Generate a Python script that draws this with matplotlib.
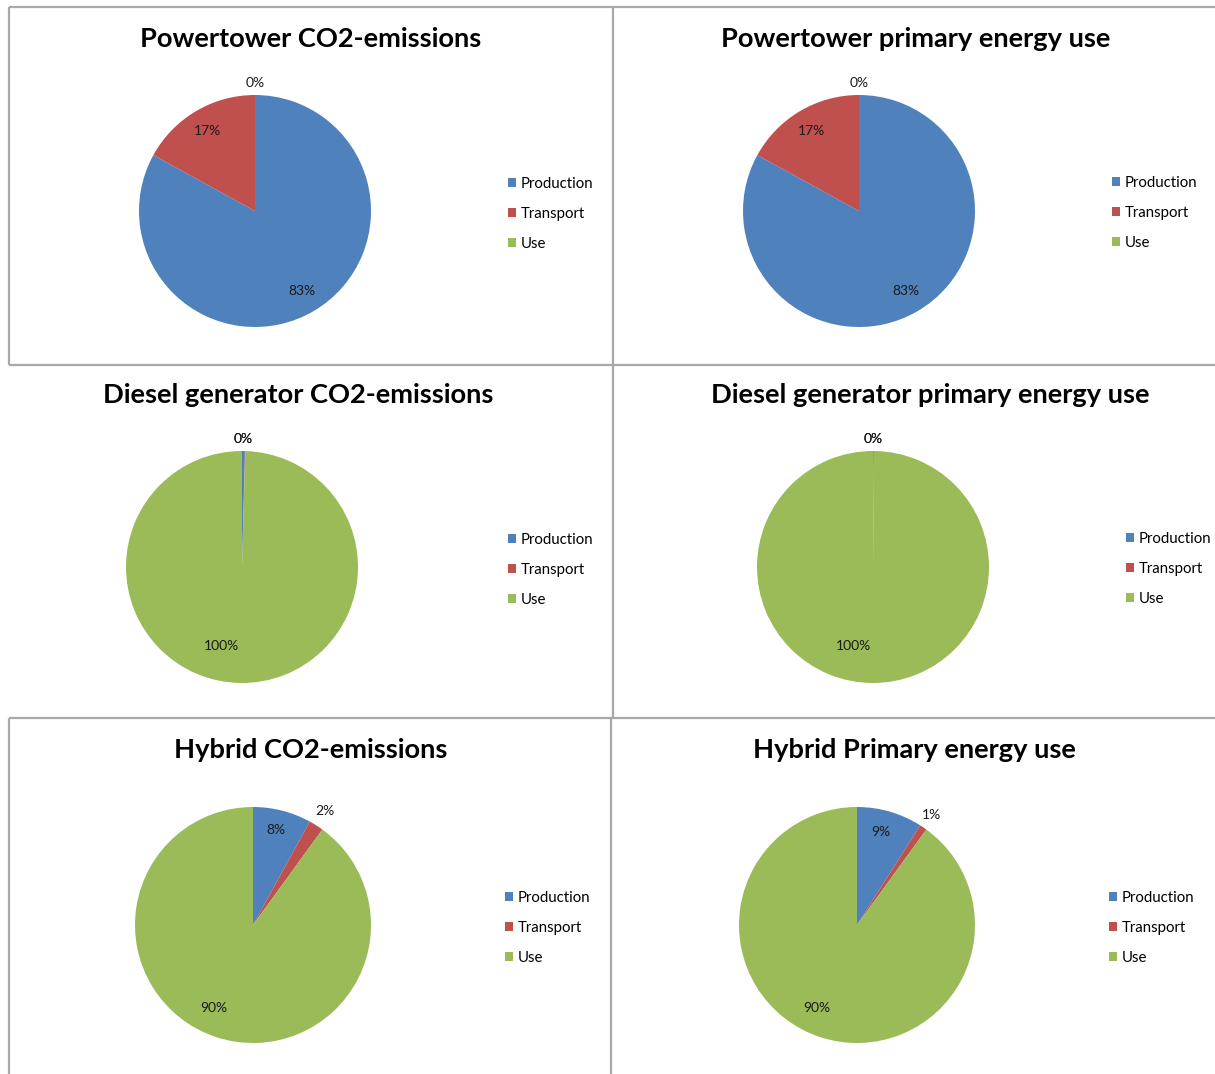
import numpy as np
import matplotlib as mpl

mpl.use('Agg')
import matplotlib.pyplot as plt
from matplotlib.lines import Line2D

mpl.rcParams['font.family'] = ['Lato', 'DejaVu Sans']

W, H = 1215, 1074

categories = ['Production', 'Transport', 'Use']
colors = ['#4F81BD', '#C0504D', '#9BBB59']

titles = [
    'Powertower CO2-emissions',
    'Powertower primary energy use',
    'Diesel generator CO2-emissions',
    'Diesel generator primary energy use',
    'Hybrid CO2-emissions',
    'Hybrid Primary energy use',
]

# shares in percent: production, transport, use
powertower_co2 = [83.0, 17.0, 0.0]
powertower_energy = [83.0, 17.0, 0.0]
diesel_co2 = [0.4, 0.05, 99.55]
diesel_energy = [0.1, 0.02, 99.88]
hybrid_co2 = [8.0, 2.0, 90.0]
hybrid_energy = [9.0, 1.0, 90.0]

series = [powertower_co2, powertower_energy, diesel_co2,
          diesel_energy, hybrid_co2, hybrid_energy]

# pie centre (px), radius (px), title centre (px), legend anchor (px)
layout = [
    dict(pie=(255, 211, 116), title=(311, 39), legend=(508, 214)),
    dict(pie=(859, 211, 116), title=(916, 39), legend=(1112, 213)),
    dict(pie=(242, 567, 116), title=(298, 395), legend=(508, 570)),
    dict(pie=(873, 567, 116), title=(930, 395), legend=(1126, 569)),
    dict(pie=(253, 925, 118), title=(311, 750), legend=(505, 928)),
    dict(pie=(857, 925, 118), title=(914, 750), legend=(1109, 928)),
]

# label distance (in radii) and clockwise angle shift (deg) per slice
label_pos = [
    [(0.80, 0), (0.80, 0), (1.10, 0)],
    [(0.80, 0), (0.80, 0), (1.10, 0)],
    [(1.10, -0.3), (1.10, -1.1), (0.70, 14)],
    [(1.10, 0), (1.10, -0.2), (0.70, 14)],
    [(0.83, -1), (1.14, 0), (0.78, 7)],
    [(0.81, -2), (1.13, 0), (0.78, 8)],
]

fig = plt.figure(figsize=(W / 100, H / 100), dpi=100)


def px_line(x0, y0, x1, y1):
    fig.add_artist(Line2D([x0 / W, x1 / W], [1 - y0 / H, 1 - y1 / H],
                          transform=fig.transFigure, color='#A8A8A8',
                          linewidth=1.6, solid_capstyle='butt'))


# panel borders
px_line(9, 7, 1215, 7)
px_line(9, 7, 9, 365)
px_line(613, 7, 613, 718)
px_line(9, 365, 1215, 365)
px_line(9, 718, 1215, 718)
px_line(9, 718, 9, 1074)
px_line(611, 718, 611, 1074)

for vals, spec, title, lpos in zip(series, layout, titles, label_pos):
    cx, cy, r = spec['pie']
    ax = fig.add_axes([(cx - r) / W, 1 - (cy + r) / H, 2 * r / W, 2 * r / H])
    wedges, _ = ax.pie(vals, colors=colors, startangle=90, counterclock=False,
                       radius=1, wedgeprops=dict(linewidth=0))
    ax.set_xlim(-1, 1)
    ax.set_ylim(-1, 1)
    ax.set_aspect('equal')
    ax.axis('off')

    # percentage labels
    for w, v, (d, shift) in zip(wedges, vals, lpos):
        ang = np.deg2rad((w.theta1 + w.theta2) / 2 - shift)
        ax.text(d * np.cos(ang), d * np.sin(ang), f'{round(v):.0f}%',
                ha='center', va='center', fontsize=10, color='#1a1a1a')

    tx, ty = spec['title']
    fig.text(tx / W, 1 - ty / H, title, ha='center', va='center',
             fontsize=19.6, fontweight='bold')

    lx, ly = spec['legend']
    ax.legend(wedges, categories, loc='center left',
              bbox_to_anchor=(lx / W, 1 - ly / H),
              bbox_transform=fig.transFigure, frameon=False,
              fontsize=10.8, handlelength=0.55, handleheight=0.55,
              handletextpad=0.3, labelspacing=1.08,
              borderpad=0, borderaxespad=0)

fig.savefig('out.png', dpi=100)
